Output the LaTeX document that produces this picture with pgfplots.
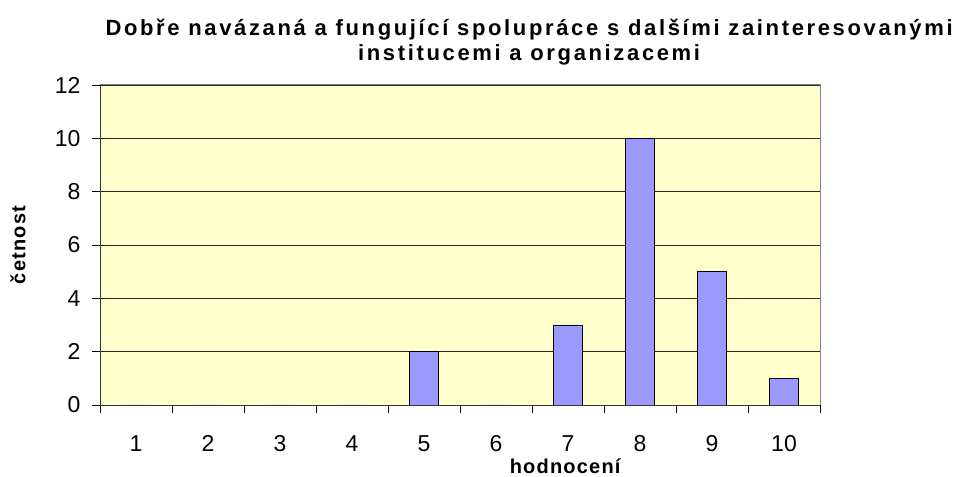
\documentclass[border=0pt]{standalone}
\usepackage{fontspec}
\setmainfont{Liberation Sans}
\newfontfamily\titlefont[LetterSpace=12]{Liberation Sans}
\newfontfamily\labfont[LetterSpace=6]{Liberation Sans}
\usepackage{pgfplots}
\pgfplotsset{compat=1.18}
\definecolor{bgy}{HTML}{FFFFCC}
\definecolor{barc}{HTML}{9999FF}
\begin{document}
\begin{tikzpicture}
\begin{axis}[
  at={(0pt,0pt)}, anchor=south west,
  scale only axis, width=720pt, height=320pt,
  xmin=0.5, xmax=10.5, ymin=0, ymax=12,
  axis lines*=left,
  axis line style={black!80, line width=0.9pt},
  axis background/.style={fill=bgy},
  ytick={0,2,...,12},
  xtick={0.5,1.5,...,10.5},
  xticklabels={},
  xtick align=outside,
  extra x ticks={1,...,10},
  extra x tick labels={1,2,3,4,5,6,7,8,9,10},
  extra x tick style={major tick length=0pt, grid=none, tick style={draw=none}},
  ytick align=outside, major tick length=8pt,
  tick style={draw=black, line width=0.9pt},
  ymajorgrids, major grid style={black!85, line width=0.8pt},
  /pgf/number format/assume math mode=true,
  tick label style={font=\fontsize{23}{26}\selectfont},
  xticklabel style={yshift=-27pt},
  yticklabel style={xshift=-8pt},
  ylabel={četnost},
  ylabel style={font=\labfont\fontsize{20}{23}\selectfont\bfseries, at={(axis description cs:-0.114,0.5)}, anchor=center, rotate=0},
  xlabel={hodnocení},
  xlabel style={font=\labfont\fontsize{20}{23}\selectfont\bfseries, at={(axis description cs:0.646,-0.19)}, anchor=center},
  title={Dobře navázaná a fungující spolupráce s dalšími zainteresovanými\\ institucemi a organizacemi},
  title style={font=\titlefont\fontsize{22}{25}\selectfont\bfseries, align=center, at={(axis description cs:0.596,1.114)}, anchor=center},
  after end axis/.code={\draw[black!50, line width=1pt] (rel axis cs:0,1) -- (rel axis cs:1,1) -- (rel axis cs:1,0);},
]
\addplot[ybar, bar width=29pt, fill=barc, draw=black, line width=0.9pt] coordinates {
(1,0) (2,0) (3,0) (4,0) (5,2) (6,0) (7,3) (8,10) (9,5) (10,1)};
\end{axis}
\useasboundingbox (-100pt,-70pt) rectangle (860pt,405pt);
\end{tikzpicture}
\end{document}
